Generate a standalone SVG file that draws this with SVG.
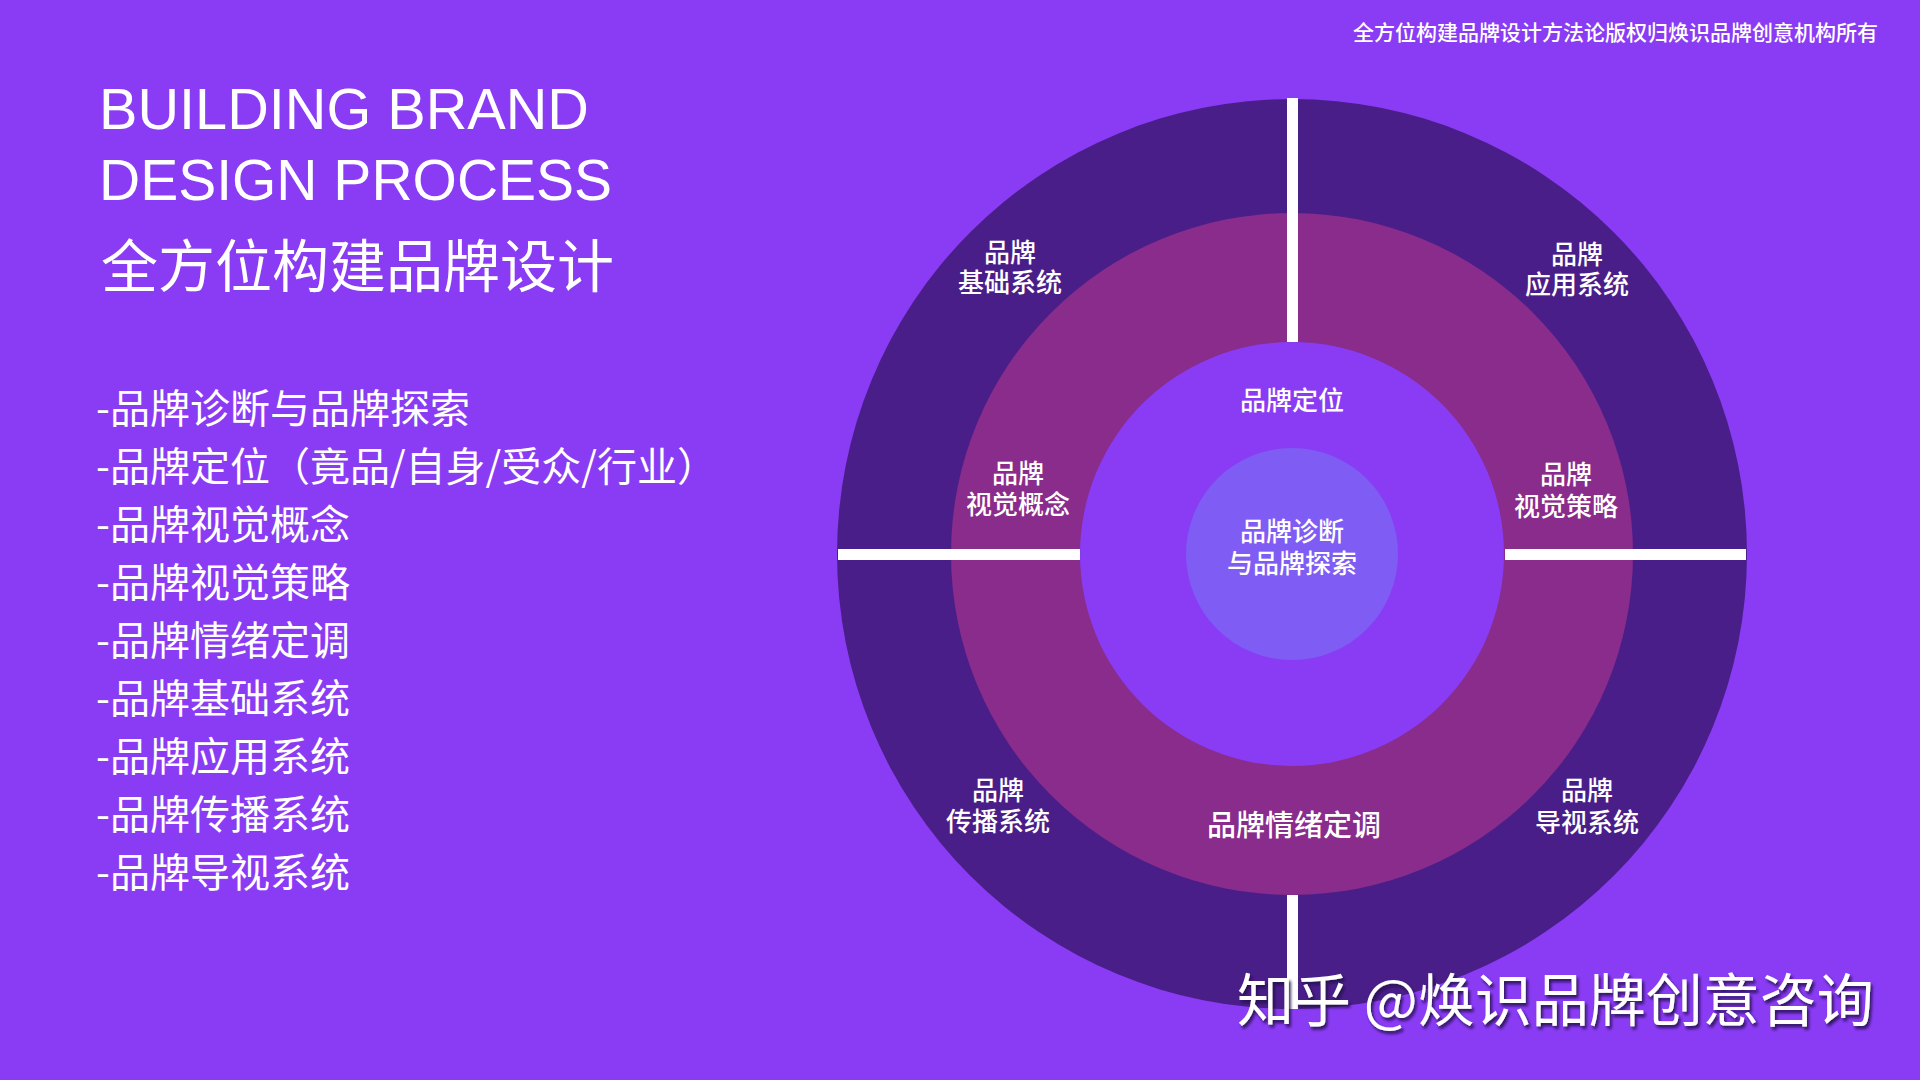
<svg xmlns="http://www.w3.org/2000/svg" width="1920" height="1080" viewBox="0 0 1920 1080">
  <style>
    .title { font-family: "Liberation Sans", Arial, sans-serif; font-size: 57px; fill: #ffffff; }
    .cn { font-family: "Noto Sans CJK SC", "Noto Sans", sans-serif; fill: #ffffff; }
    .ttl-cn { font-size: 57px; }
    .list { font-size: 40px; }
    .lbl { font-size: 26px; font-weight: 500; text-anchor: middle; }
    .copy { font-size: 21px; font-weight: 500; text-anchor: end; }
    .wm { font-size: 57px; }
    .bar { fill: #ffffff; }
  </style>
  <defs>
    <filter id="shadow" x="-5%" y="-20%" width="110%" height="150%">
      <feDropShadow dx="2" dy="3" stdDeviation="1.5" flood-color="#240b4d" flood-opacity="0.9"/>
    </filter>
  </defs>
  <rect width="1920" height="1080" fill="#8a3cf4"/>

  <g id="copyright">
    <text class="cn copy" x="1878" y="40">全方位构建品牌设计方法论版权归焕识品牌创意机构所有</text>
  </g>

  <g id="title">
    <text class="title" x="99" y="129" textLength="490" lengthAdjust="spacingAndGlyphs">BUILDING BRAND</text>
    <text class="title" x="99" y="200">DESIGN PROCESS</text>
    <text class="cn ttl-cn" x="101" y="287">全方位构建品牌设计</text>
  </g>

  <g id="list">
    <text class="cn list" x="96" y="423">-品牌诊断与品牌探索</text>
    <text class="cn list" x="96" y="481">-品牌定位（竟品/自身/受众/行业）</text>
    <text class="cn list" x="96" y="539">-品牌视觉概念</text>
    <text class="cn list" x="96" y="597">-品牌视觉策略</text>
    <text class="cn list" x="96" y="655">-品牌情绪定调</text>
    <text class="cn list" x="96" y="713">-品牌基础系统</text>
    <text class="cn list" x="96" y="771">-品牌应用系统</text>
    <text class="cn list" x="96" y="829">-品牌传播系统</text>
    <text class="cn list" x="96" y="887">-品牌导视系统</text>
  </g>

  <g id="rings">
    <circle cx="1292" cy="554" r="455" fill="#4a1e89"/>
    <circle cx="1292" cy="554" r="341" fill="#892c8c"/>
    <circle cx="1292" cy="554" r="212" fill="#8a3cf4"/>
    <circle cx="1292" cy="554" r="106" fill="#7f5cf3"/>
  </g>

  <g id="dividers">
    <rect class="bar" x="1287" y="98" width="11" height="244"/>
    <rect class="bar" x="1287" y="895" width="11" height="114"/>
    <rect class="bar" x="838" y="549" width="242" height="11"/>
    <rect class="bar" x="1505" y="549" width="241" height="11"/>
  </g>

  <g id="node-foundation">
    <text class="cn lbl" x="1010" y="262">品牌</text>
    <text class="cn lbl" x="1010" y="292">基础系统</text>
  </g>
  <g id="node-application">
    <text class="cn lbl" x="1577" y="264">品牌</text>
    <text class="cn lbl" x="1577" y="294">应用系统</text>
  </g>
  <g id="node-positioning">
    <text class="cn lbl" x="1292" y="410">品牌定位</text>
  </g>
  <g id="node-visual-concept">
    <text class="cn lbl" x="1018" y="483">品牌</text>
    <text class="cn lbl" x="1018" y="514">视觉概念</text>
  </g>
  <g id="node-visual-strategy">
    <text class="cn lbl" x="1566" y="484">品牌</text>
    <text class="cn lbl" x="1566" y="516">视觉策略</text>
  </g>
  <g id="node-diagnosis">
    <text class="cn lbl" x="1292" y="541">品牌诊断</text>
    <text class="cn lbl" x="1292" y="573">与品牌探索</text>
  </g>
  <g id="node-communication">
    <text class="cn lbl" x="998" y="800">品牌</text>
    <text class="cn lbl" x="998" y="831">传播系统</text>
  </g>
  <g id="node-emotion">
    <text class="cn lbl" x="1294" y="836" style="font-size:29px">品牌情绪定调</text>
  </g>
  <g id="node-wayfinding">
    <text class="cn lbl" x="1587" y="800">品牌</text>
    <text class="cn lbl" x="1587" y="832">导视系统</text>
  </g>

  <g id="watermark" filter="url(#shadow)">
    <text class="cn wm" x="1237" y="1021">知乎 @焕识品牌创意咨询</text>
  </g>
</svg>
